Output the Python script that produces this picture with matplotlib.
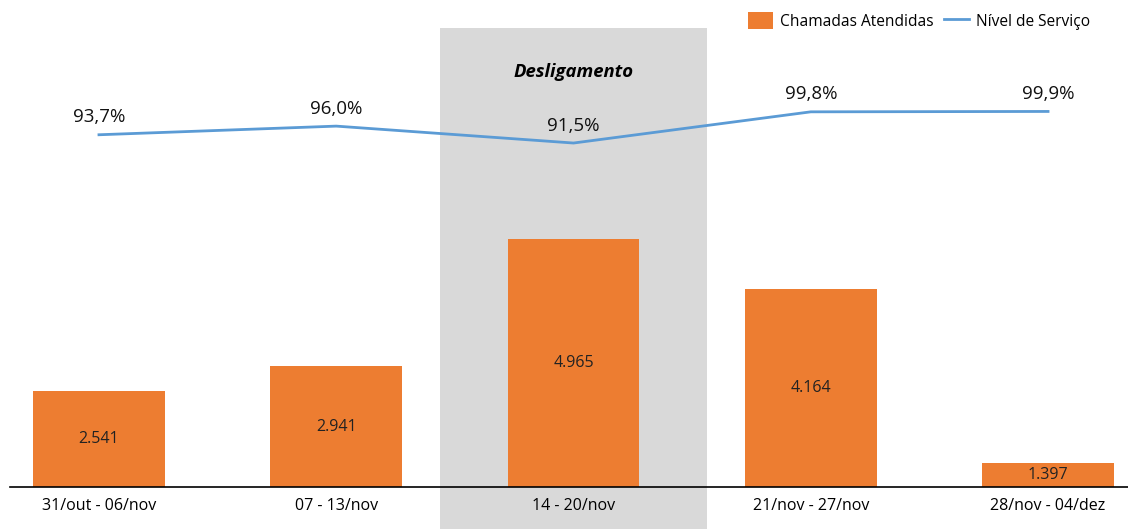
import matplotlib
matplotlib.use("Agg")
import matplotlib.pyplot as plt
from matplotlib.patches import Rectangle, Patch
from matplotlib.lines import Line2D
import matplotlib.transforms as mtransforms

plt.rcParams['font.family'] = ['Open Sans', 'DejaVu Sans']

# Weekly periods
semanas = ["31/out - 06/nov", "07 - 13/nov", "14 - 20/nov", "21/nov - 27/nov", "28/nov - 04/dez"]
chamadas_atendidas = [2541, 2941, 4965, 4164, 1397]
nivel_servico = [93.7, 96.0, 91.5, 99.8, 99.9]
destaque_semana = 2
destaque_texto = "Desligamento"

COR_BARRA = "#ED7D31"
COR_LINHA = "#5B9BD5"
COR_DESTAQUE = "#D9D9D9"

W, H = 1128, 529
fig = plt.figure(figsize=(W / 100, H / 100), dpi=100)
left, right, top, bottom = 10, 1128, 28, 487
ax = fig.add_axes([left / W, 1 - bottom / H, (right - left) / W, (bottom - top) / H])
ax2 = ax.twinx()

x = list(range(len(semanas)))

# Highlighted week band (extends below the axis line)
trans = mtransforms.blended_transform_factory(ax.transData, ax.transAxes)
ax.add_patch(Rectangle((destaque_semana - 0.5625, -(H - bottom) / (bottom - top)), 1.125,
                       1 + (H - bottom) / (bottom - top), transform=trans,
                       facecolor=COR_DESTAQUE, edgecolor="none", clip_on=False, zorder=0))
ax.text(destaque_semana, 1 - 44 / (bottom - top), destaque_texto, transform=trans,
        ha="center", va="center", fontsize=13.3, fontweight="bold", fontstyle="italic", zorder=3)

bars = ax.bar(x, chamadas_atendidas, width=0.555, color=COR_BARRA, zorder=2)
ax.bar_label(bars, labels=[f"{v:,}".replace(",", ".") for v in chamadas_atendidas],
             label_type="center", fontsize=11.5, color="#222222")

ax.set_xlim(-0.375, 4.337)
ax.set_ylim(1015, 8326)
ax2.set_ylim(0, 122.1)

ax2.plot(x, nivel_servico, color=COR_LINHA, linewidth=2, zorder=3)
for xi, v in zip(x, nivel_servico):
    ax2.annotate(f"{v:.1f}%".replace(".", ","), (xi, v), xytext=(0, 6),
                 textcoords="offset points", ha="center", va="bottom", fontsize=13.5,
                 color="#111111")

ax.set_xticks(x)
ax.set_xticklabels(semanas, fontsize=11.5)
ax.tick_params(axis="x", length=0, pad=8)
ax.set_yticks([])
ax2.set_yticks([])
for a in (ax, ax2):
    for s in ("top", "right", "left"):
        a.spines[s].set_visible(False)
ax2.spines["bottom"].set_visible(False)
ax.spines["bottom"].set_color("#000000")
ax.spines["bottom"].set_linewidth(1.2)
ax.patch.set_visible(False)
ax2.patch.set_visible(False)

handles = [Patch(facecolor=COR_BARRA, edgecolor="none"),
           Line2D([], [], color=COR_LINHA, linewidth=2)]
fig.legend(handles, ["Chamadas Atendidas", "Nível de Serviço"], loc="center right",
           bbox_to_anchor=(1098 / W, 1 - 21 / H), ncol=2, frameon=False, fontsize=11.2,
           handlelength=1.6, handleheight=1.3, columnspacing=0.7, handletextpad=0.45,
           borderpad=0)

fig.savefig("out.png", dpi=100)
